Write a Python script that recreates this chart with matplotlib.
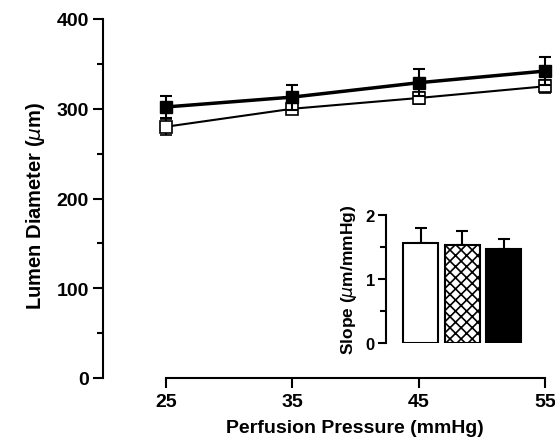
import matplotlib
matplotlib.use("Agg")
import matplotlib.pyplot as plt
from matplotlib.ticker import MultipleLocator

plt.rcParams['font.family'] = ['Liberation Sans', 'DejaVu Sans']
plt.rcParams['hatch.linewidth'] = 1.2

pressure = [25, 35, 45, 55]
open_diam = [280, 300, 312, 325]
open_err = [9, 4, 7, 7]
filled_diam = [302, 313, 329, 342]
filled_err = [12, 14, 15, 16]

slope_groups = ['open', 'hatched', 'filled']
slope_vals = [1.56, 1.53, 1.47]
slope_err = [0.24, 0.22, 0.15]

W, H = 555, 439
fig = plt.figure(figsize=(W / 100, H / 100), dpi=100)

ax = fig.add_axes([103 / W, (H - 379) / H, (545 - 103) / W, (379 - 20) / H])
ax.errorbar(pressure, open_diam, yerr=open_err, color='black', lw=1.5,
            marker='s', markersize=8, markerfacecolor='white', markeredgecolor='black',
            markeredgewidth=1.2, capsize=4, capthick=1.5, elinewidth=1.5, clip_on=False, zorder=3)
ax.errorbar(pressure, filled_diam, yerr=filled_err, color='black', lw=2.5,
            marker='s', markersize=8, markerfacecolor='black', markeredgecolor='black',
            capsize=4, capthick=1.5, elinewidth=1.5, clip_on=False, zorder=4)

ax.set_xlim(20, 55)
ax.set_ylim(0, 400)
ax.spines['top'].set_visible(False)
ax.spines['right'].set_visible(False)
ax.spines['bottom'].set_bounds(25, 55)
ax.spines['left'].set_bounds(0, 400)
for s in ('left', 'bottom'):
    ax.spines[s].set_linewidth(1.5)
ax.set_xticks(pressure)
ax.set_yticks([0, 100, 200, 300, 400])
ax.yaxis.set_minor_locator(MultipleLocator(50))
ax.tick_params(axis='both', which='major', length=7, width=1.5, labelsize=14)
ax.tick_params(axis='x', which='major', pad=4)
ax.tick_params(axis='y', which='major', pad=3)
ax.tick_params(axis='y', which='minor', length=4, width=1.5)
for lab in ax.get_xticklabels() + ax.get_yticklabels():
    lab.set_fontweight('bold')
ax.set_xlabel('Perfusion Pressure (mmHg)', fontsize=14, fontweight='bold')
ax.xaxis.set_label_coords((355 - 103) / 442, (379 - 420) / 359)
ax.set_ylabel('Lumen Diameter ($\\mathit{\\mu}$m)', fontsize=14.5, fontweight='bold')
ax.yaxis.set_label_coords((47 - 103) / 442, (379 - 206) / 359)

# Inset
iax = fig.add_axes([386 / W, (H - 344) / H, (530 - 386) / W, (344 - 216) / H])
xs = list(range(len(slope_groups)))
faces = ['white', 'white', 'black']
hatches = [None, 'xxx', None]
for i in xs:
    iax.bar(xs[i], slope_vals[i], width=0.85, color=faces[i], edgecolor='black',
            linewidth=1.5, hatch=hatches[i], zorder=2)
    iax.errorbar(xs[i], slope_vals[i], yerr=[[0], [slope_err[i]]], color='black',
                 capsize=4, capthick=1.5, elinewidth=1.5, zorder=1)
iax.set_xlim(-0.835, 2.63)
iax.set_ylim(0, 2)
for s in ('top', 'right', 'bottom'):
    iax.spines[s].set_visible(False)
iax.spines['left'].set_linewidth(1.5)
iax.set_xticks([])
iax.set_yticks([0, 1, 2])
iax.yaxis.set_minor_locator(MultipleLocator(0.5))
iax.tick_params(axis='y', which='major', length=6, width=1.5, labelsize=12, pad=2)
iax.tick_params(axis='y', which='minor', length=4, width=1.5)
for lab in iax.get_yticklabels():
    lab.set_fontweight('bold')
iax.set_ylabel('Slope ($\\mathit{\\mu}$m/mmHg)', fontsize=12.5, fontweight='bold', labelpad=5)
iax.patch.set_alpha(0)

fig.savefig('out.png', dpi=100)
